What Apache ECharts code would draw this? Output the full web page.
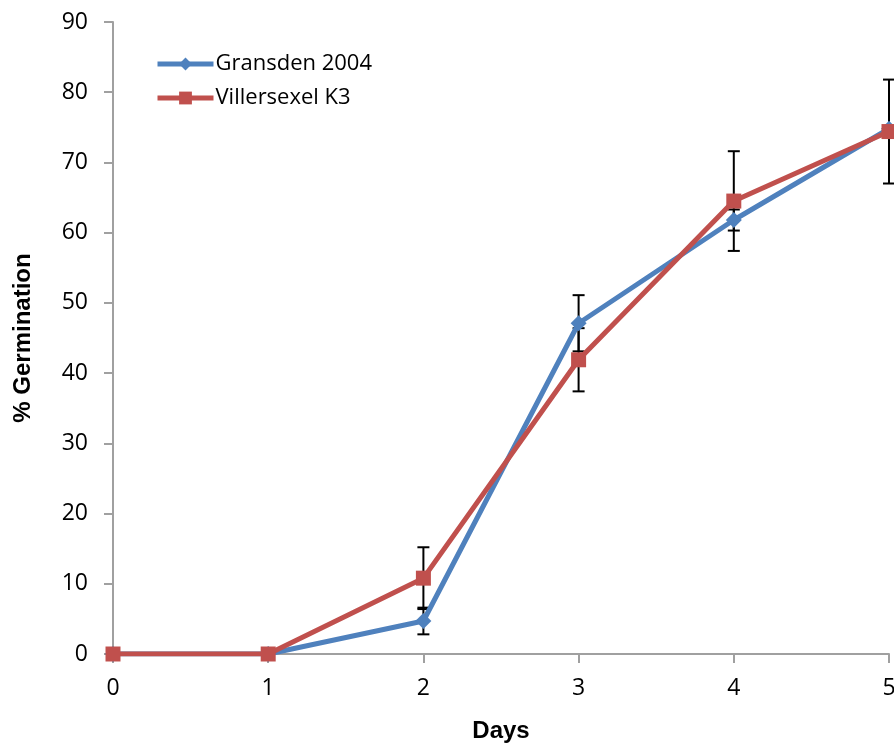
<!DOCTYPE html>
<html>
<head>
<meta charset="utf-8">
<script src="https://cdn.jsdelivr.net/npm/echarts@6/dist/echarts.min.js"></script>
<style>
  html, body { margin: 0; padding: 0; background: #fff; }
  #chart { width: 894px; height: 746px; }
</style>
</head>
<body>
<div id="chart"></div>
<script>
// data
var days = [0, 1, 2, 3, 4, 5];
var gransden = [0, 0, 4.7, 47.1, 61.8, 74.8];
var gransdenErr = [0, 0, 1.9, 4.0, 1.5, 0];
var villersexel = [0, 0, 10.8, 41.9, 64.5, 74.4];
var villersexelErr = [0, 0, 4.4, 4.5, 7.1, 7.4];

var blue = '#4F81BD';
var red = '#C0504D';
var axisGray = '#A0A0A0';

function pairs(vals) {
  return days.map(function (d, i) { return [d, vals[i]]; });
}

function errData(vals, errs) {
  var out = [];
  days.forEach(function (d, i) {
    if (errs[i] > 0) out.push([d, vals[i] - errs[i], vals[i] + errs[i]]);
  });
  return out;
}

// vertical error bar with caps
function renderErr(params, api) {
  var x = api.value(0);
  var lo = api.coord([x, api.value(1)]);
  var hi = api.coord([x, api.value(2)]);
  var half = 6;
  var style = { stroke: '#000', lineWidth: 2 };
  return {
    type: 'group',
    children: [
      { type: 'line', shape: { x1: lo[0], y1: lo[1], x2: hi[0], y2: hi[1] }, style: style },
      { type: 'line', shape: { x1: lo[0] - half, y1: lo[1], x2: lo[0] + half, y2: lo[1] }, style: style },
      { type: 'line', shape: { x1: hi[0] - half, y1: hi[1], x2: hi[0] + half, y2: hi[1] }, style: style }
    ]
  };
}

var myChart = echarts.init(document.getElementById('chart'));

var option = {
  animation: false,
  grid: {
    left: 113,
    right: 5,
    top: 22,
    bottom: 92,
    containLabel: false,
    outerBoundsMode: 'none'
  },
  legend: {
    orient: 'vertical',
    left: 155,
    top: 53,
    padding: 0,
    itemWidth: 56,
    itemHeight: 16,
    itemGap: 12,
    lineStyle: { width: 5 },
    textStyle: {
      fontFamily: 'Open Sans',
      fontSize: 22,
      color: '#000',
      padding: [0, 0, 0, -3]
    },
    data: ['Gransden 2004', 'Villersexel K3']
  },
  xAxis: {
    type: 'value',
    min: 0,
    max: 5,
    interval: 1,
    name: 'Days',
    nameLocation: 'middle',
    nameGap: 65,
    nameTextStyle: {
      fontFamily: 'Liberation Sans',
      fontWeight: 'bold',
      fontSize: 24,
      color: '#000'
    },
    axisLine: { lineStyle: { color: axisGray, width: 2 } },
    axisTick: { show: true, length: 9, lineStyle: { color: axisGray, width: 2 } },
    axisLabel: {
      margin: 23,
      fontFamily: 'Open Sans',
      fontSize: 23,
      color: '#000'
    },
    splitLine: { show: false }
  },
  yAxis: {
    type: 'value',
    min: 0,
    max: 90,
    interval: 10,
    name: '% Germination',
    nameLocation: 'middle',
    nameGap: 78,
    nameTextStyle: {
      fontFamily: 'Liberation Sans',
      fontWeight: 'bold',
      fontSize: 24,
      color: '#000'
    },
    axisLine: { show: true, lineStyle: { color: axisGray, width: 2 } },
    axisTick: { show: true, length: 9, lineStyle: { color: axisGray, width: 2 } },
    axisLabel: {
      margin: 25,
      fontFamily: 'Open Sans',
      fontSize: 23,
      color: '#000'
    },
    splitLine: { show: false }
  },
  series: [
    {
      name: 'Gransden err',
      type: 'custom',
      renderItem: renderErr,
      data: errData(gransden, gransdenErr),
      z: 1,
      silent: true
    },
    {
      name: 'Villersexel err',
      type: 'custom',
      renderItem: renderErr,
      data: errData(villersexel, villersexelErr),
      z: 1,
      silent: true
    },
    {
      name: 'Gransden 2004',
      type: 'line',
      data: pairs(gransden),
      symbol: 'diamond',
      symbolSize: 16,
      lineStyle: { color: blue, width: 5 },
      itemStyle: { color: blue },
      z: 3
    },
    {
      name: 'Villersexel K3',
      type: 'line',
      data: pairs(villersexel),
      symbol: 'rect',
      symbolSize: 15,
      lineStyle: { color: red, width: 5 },
      itemStyle: { color: red },
      z: 4
    }
  ]
};

myChart.setOption(option);
</script>
</body>
</html>
